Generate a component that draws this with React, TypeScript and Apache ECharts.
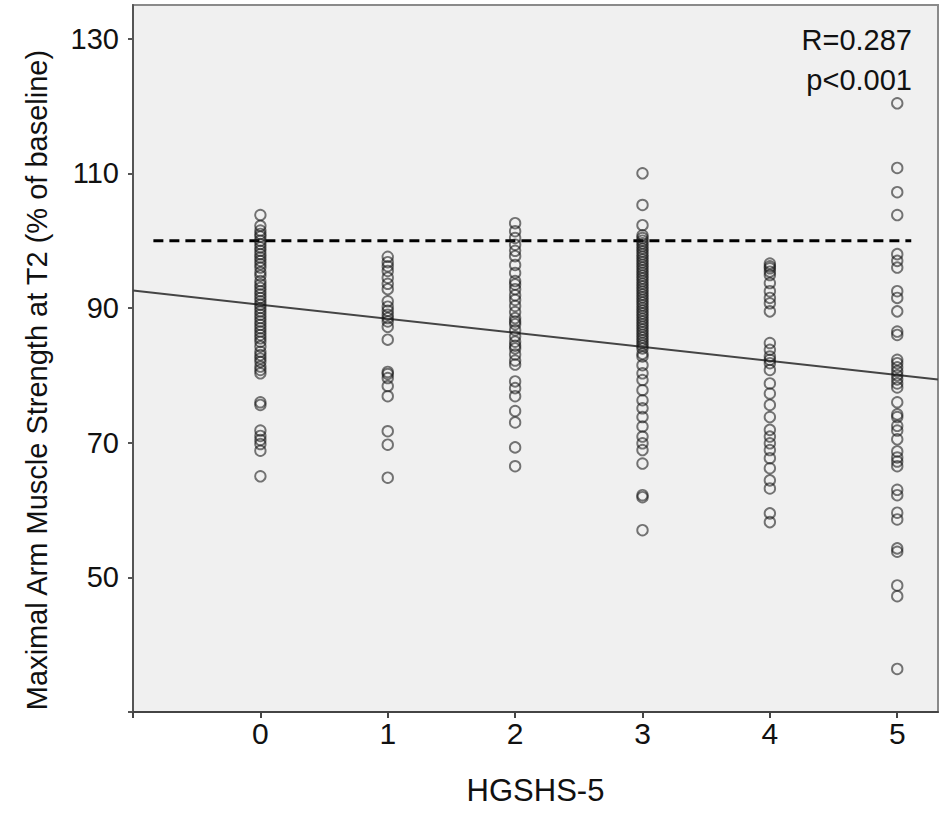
import React, { useEffect, useRef } from "react";
import * as echarts from "echarts";

// HGSHS-5 score categories (x positions)
const HGSHS_SCORES = [0, 1, 2, 3, 4, 5];

// Maximal arm muscle strength at T2 (% of baseline), per HGSHS-5 score
const STRENGTH_SCORE_0 = [
  103.8, 102.2, 101.5, 101.0, 100.6, 100.0, 99.5, 99.0, 98.5, 98.0, 97.5, 97.0, 96.5, 96.0, 95.3,
  94.8, 94.0, 93.5, 93.0, 92.5, 92.0, 91.5, 91.0, 90.5, 90.0, 89.5, 89.0, 88.5, 88.0, 87.5, 87.0,
  86.5, 86.0, 85.5, 85.0, 84.3, 83.5, 83.0, 82.5, 82.0, 81.3, 80.8, 80.3, 76.0, 75.6, 71.8, 71.0,
  70.4, 69.8, 68.8, 65.0,
];
const STRENGTH_SCORE_1 = [
  97.6, 96.8, 96.2, 95.5, 94.5, 93.6, 92.8, 91.0, 90.2, 89.6, 89.0, 88.5, 88.0, 87.2, 85.3, 80.5,
  80.2, 79.6, 78.4, 76.9, 71.7, 69.7, 64.8,
];
const STRENGTH_SCORE_2 = [
  102.6, 101.4, 100.4, 99.4, 98.5, 97.7, 96.4, 95.2, 94.0, 93.5, 92.8, 91.9, 91.2, 90.3, 89.4, 88.5,
  88.0, 87.6, 86.7, 85.8, 85.0, 84.4, 84.0, 83.1, 82.2, 81.6, 79.1, 78.1, 76.9, 74.7, 73.0, 69.3,
  66.5,
];
const STRENGTH_SCORE_3 = [
  110.0, 105.3, 102.3, 100.8, 100.4, 100.0, 99.6, 99.2, 98.8, 98.4, 98.0, 97.6, 97.2, 96.8, 96.4,
  96.0, 95.6, 95.2, 94.8, 94.4, 94.0, 93.6, 93.2, 92.8, 92.4, 92.0, 91.6, 91.2, 90.8, 90.4, 90.0,
  89.6, 89.2, 88.8, 88.4, 88.0, 87.6, 87.2, 86.8, 86.4, 86.0, 85.6, 85.2, 84.8, 84.4, 84.0, 83.2,
  82.8, 81.5, 80.3, 79.3, 77.8, 76.3, 75.1, 73.8, 72.4, 70.9, 69.9, 68.9, 66.9, 62.2, 61.9, 57.0,
];
const STRENGTH_SCORE_4 = [
  96.6, 96.2, 95.9, 95.4, 94.9, 93.7, 92.5, 91.5, 90.7, 89.5, 84.8, 83.8, 82.8, 82.3, 81.8, 80.8,
  78.8, 77.3, 75.6, 73.8, 71.9, 70.9, 69.9, 68.9, 67.7, 66.2, 64.4, 63.2, 59.5, 58.2,
];
const STRENGTH_SCORE_5 = [
  120.4, 110.8, 107.2, 103.8, 98.0, 97.0, 96.0, 92.5, 91.5, 89.5, 86.5, 86.0, 82.3, 81.8, 81.2,
  80.6, 80.0, 79.4, 78.8, 78.2, 76.0, 74.2, 73.8, 72.5, 71.8, 70.5, 68.7, 67.8, 67.2, 66.5, 63.0,
  62.2, 59.6, 58.6, 54.3, 53.8, 48.8, 47.2, 36.4,
];
const STRENGTH_BY_SCORE = [
  STRENGTH_SCORE_0,
  STRENGTH_SCORE_1,
  STRENGTH_SCORE_2,
  STRENGTH_SCORE_3,
  STRENGTH_SCORE_4,
  STRENGTH_SCORE_5,
];

// Linear fit and baseline reference
const FIT_INTERCEPT = 90.5;
const FIT_SLOPE = -2.09;
const BASELINE_VALUE = 100;
const BASELINE_X_RANGE = [-0.84, 5.11];

// Axes
const X_MIN = -1;
const X_MAX = 5.32;
const X_TICKS = [-1, 0, 1, 2, 3, 4, 5];
const X_LABELS = [0, 1, 2, 3, 4, 5];
const Y_MIN = 30;
const Y_MAX = 135;
const Y_TICKS = [30, 50, 70, 90, 110, 130];
const Y_LABELS = [50, 70, 90, 110, 130];

const STAT_LINES = ["R=0.287", "p<0.001"];
const X_TITLE = "HGSHS-5";
const Y_TITLE = "Maximal Arm Muscle Strength at T2 (% of baseline)";

const FONT = "'Liberation Sans', Arial, sans-serif";

export default function App() {
  const ref = useRef<HTMLDivElement>(null);

  useEffect(() => {
    if (!ref.current) return;
    const chart = echarts.init(ref.current, null, { renderer: "svg" });

    const points: number[][] = [];
    HGSHS_SCORES.forEach((s, i) => {
      STRENGTH_BY_SCORE[i].forEach((v) => points.push([s, v]));
    });

    const fitLine = [
      [X_MIN, FIT_INTERCEPT + FIT_SLOPE * X_MIN],
      [X_MAX, FIT_INTERCEPT + FIT_SLOPE * X_MAX],
    ];
    const baseline = [
      [BASELINE_X_RANGE[0], BASELINE_VALUE],
      [BASELINE_X_RANGE[1], BASELINE_VALUE],
    ];

    chart.setOption({
      animation: false,
      backgroundColor: "#ffffff",
      textStyle: { fontFamily: FONT },
      grid: {
        left: 133,
        top: 5,
        right: 12,
        bottom: 107,
        show: true,
        backgroundColor: "#f0f0f0",
        borderColor: "#8a8a8a",
        borderWidth: 2,
        containLabel: false,
      },
      xAxis: {
        type: "value",
        min: X_MIN,
        max: X_MAX,
        interval: 1,
        name: X_TITLE,
        nameLocation: "middle",
        nameGap: 63,
        nameTextStyle: { fontSize: 31, color: "#111", fontFamily: FONT },
        axisLine: { show: true, onZero: false, lineStyle: { color: "#444", width: 2 } },
        axisTick: {
          show: true,
          inside: false,
          length: 6,
          customValues: X_TICKS,
          lineStyle: { color: "#444", width: 2 },
        },
        axisLabel: {
          show: true,
          margin: 6,
          fontSize: 30,
          color: "#111",
          fontFamily: FONT,
          customValues: X_LABELS,
          formatter: (v: number) => (X_LABELS.includes(v) ? String(v) : ""),
        },
        splitLine: { show: false },
      },
      yAxis: {
        type: "value",
        min: Y_MIN,
        max: Y_MAX,
        interval: 20,
        axisLine: { show: true, onZero: false, lineStyle: { color: "#555", width: 2 } },
        axisTick: {
          show: true,
          inside: false,
          length: 5,
          customValues: Y_TICKS,
          lineStyle: { color: "#555", width: 2 },
        },
        axisLabel: {
          show: true,
          margin: 14,
          fontSize: 29,
          color: "#111",
          fontFamily: FONT,
          customValues: Y_LABELS,
          formatter: (v: number) => (Y_LABELS.includes(v) ? String(v) : ""),
        },
        splitLine: { show: false },
      },
      graphic: [
        {
          type: "text",
          x: 37,
          y: 380,
          rotation: Math.PI / 2,
          style: {
            text: Y_TITLE,
            fontSize: 29,
            fontFamily: FONT,
            fill: "#111",
            textAlign: "center",
            textVerticalAlign: "middle",
          },
        },
        {
          type: "text",
          right: 38,
          top: 20,
          style: {
            text: STAT_LINES.join("\n"),
            fontSize: 29,
            lineHeight: 40,
            fontFamily: FONT,
            fill: "#111",
            textAlign: "right",
          },
        },
      ],
      series: [
        {
          type: "line",
          data: baseline,
          symbol: "none",
          silent: true,
          z: 3,
          lineStyle: { color: "#000", width: 3, type: [10, 6] },
        },
        {
          type: "line",
          data: fitLine,
          symbol: "none",
          silent: true,
          z: 3,
          lineStyle: { color: "#444", width: 2 },
        },
        {
          type: "scatter",
          data: points,
          symbol: "circle",
          symbolSize: 10.5,
          z: 4,
          itemStyle: {
            color: "rgba(0,0,0,0)",
            borderColor: "rgba(20,20,20,0.72)",
            borderWidth: 1.9,
          },
        },
      ],
    });

    return () => chart.dispose();
  }, []);

  return (
    <div
      ref={ref}
      style={{ position: "fixed", left: 0, top: 0, width: 950, height: 819 }}
    />
  );
}
